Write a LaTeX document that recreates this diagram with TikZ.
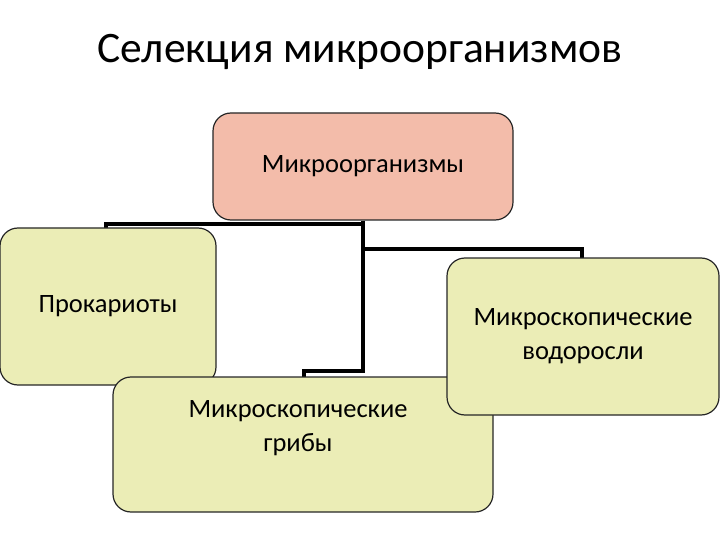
\documentclass[tikz,border=0pt]{standalone}
\usepackage{fontspec}
\setmainfont{Carlito}
\definecolor{pinkf}{HTML}{F3BCAA}
\definecolor{greenf}{HTML}{EBEDB6}
\begin{document}
\begin{tikzpicture}[x=1pt,y=-1pt,
  box/.style={draw=black!85,line width=1.2pt,rounded corners=18pt,align=center,font=\fontsize{26.5}{34}\selectfont,inner sep=0pt},
  conn/.style={line width=4.5pt,black}]
\useasboundingbox (0,0) rectangle (720,540);
\node[font=\fontsize{43.5}{50}\selectfont] (title) at (360,52) {Селекция микроорганизмов};
% junction coordinates
\coordinate (j0) at (363,224);
\coordinate (jp) at (106,224);
\coordinate (ja) at (363,249);
\coordinate (ja2) at (582,249);
\coordinate (jf) at (363,371);
\coordinate (jf2) at (304,371);
\node[box,fill=pinkf,minimum width=300,minimum height=107] (top) at (363,166.5) {Микроорганизмы};
\draw[conn] (top.south) -- (j0) -- (jp) -- (106,232);
\draw[conn] (ja) -- (ja2) -- (582,262);
\draw[conn] (j0) -- (jf) -- (jf2) -- (304,382);
\node[box,fill=greenf,minimum width=216,minimum height=157] (pro) at (108,306.5) {};
\node at (pro.center) [font=\fontsize{26.5}{34}\selectfont] (prot) {Прокариоты};
\node[box,fill=greenf,minimum width=380,minimum height=135] (fun) at (303,444.5) {};
\node[align=center,font=\fontsize{26.5}{34}\selectfont] (funt) at (298,428) {Микроскопические\\грибы};
\node[box,fill=greenf,minimum width=272,minimum height=157] (alg) at (583,336.5) {Микроскопические\\водоросли};
\end{tikzpicture}
\end{document}
